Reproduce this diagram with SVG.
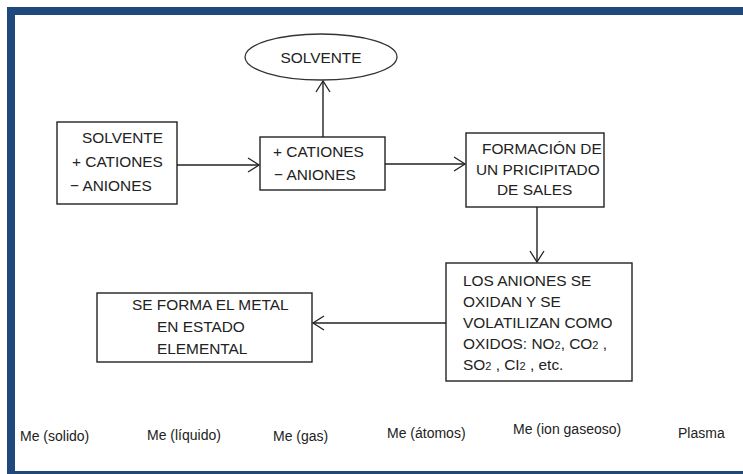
<svg xmlns="http://www.w3.org/2000/svg" width="743" height="474" viewBox="0 0 743 474">
<defs>
<style>
.box{fill:#fff;stroke:#222;stroke-width:1.4}
.t{font-family:"Liberation Sans",Arial,sans-serif;font-size:15.4px;fill:#222}
.b{font-family:"Liberation Sans",Arial,sans-serif;font-size:14px;fill:#222}
.c{stroke:#222;stroke-width:1.4;fill:none}
.sub{font-size:11px}
</style>
<marker id="ah" markerWidth="14" markerHeight="16" refX="12" refY="8" orient="auto" markerUnits="userSpaceOnUse">
<path d="M1,1 L12,8 L1,15" fill="none" stroke="#222" stroke-width="1.3"/>
</marker>
</defs>
<rect x="0" y="0" width="743" height="474" fill="#fff"/>
<rect id="frame" x="11" y="11" width="800" height="464" fill="none" stroke="#1f497d" stroke-width="8"/>
<g id="connectors">
<line class="c" x1="177" y1="165" x2="259" y2="165" marker-end="url(#ah)"/>
<line class="c" x1="323" y1="137" x2="323" y2="81" marker-end="url(#ah)"/>
<line class="c" x1="385" y1="164" x2="465" y2="164" marker-end="url(#ah)"/>
<line class="c" x1="537" y1="207" x2="537" y2="262" marker-end="url(#ah)"/>
<line class="c" x1="446" y1="323" x2="313" y2="323" marker-end="url(#ah)"/>
</g>
<g id="n_solvente">
<ellipse cx="321" cy="57" rx="76" ry="23" fill="#fff" stroke="#333" stroke-width="1.3"/>
<text class="t" x="321" y="63" text-anchor="middle">SOLVENTE</text>
</g>
<g id="n_mezcla">
<rect class="box" x="57" y="122" width="120" height="82"/>
<text class="t" x="82" y="143">SOLVENTE</text>
<text class="t" x="72" y="167">+ CATIONES</text>
<text class="t" x="70" y="191">−  ANIONES</text>
</g>
<g id="n_iones">
<rect class="box" x="260" y="137" width="125" height="53"/>
<text class="t" x="273" y="157">+ CATIONES</text>
<text class="t" x="274" y="180">−  ANIONES</text>
</g>
<g id="n_precipitado">
<rect class="box" x="466" y="133" width="138" height="74"/>
<text class="t" x="482" y="154">FORMACIÓN DE</text>
<text class="t" x="476" y="175">UN PRICIPITADO</text>
<text class="t" x="497" y="195">DE SALES</text>
</g>
<g id="n_oxidan">
<rect class="box" x="446" y="263" width="186" height="118"/>
<text class="t" x="463" y="286">LOS ANIONES SE</text>
<text class="t" x="463" y="307">OXIDAN Y SE</text>
<text class="t" x="463" y="328">VOLATILIZAN COMO</text>
<text class="t" x="463" y="349">OXIDOS:  NO<tspan class="sub">2</tspan>, CO<tspan class="sub">2</tspan> ,</text>
<text class="t" x="463" y="370">SO<tspan class="sub">2</tspan> , CI<tspan class="sub">2</tspan> , etc.</text>
</g>
<g id="n_metal">
<rect class="box" x="97" y="293" width="215" height="69"/>
<text class="t" x="132" y="310">SE FORMA EL METAL</text>
<text class="t" x="157" y="332">EN ESTADO</text>
<text class="t" x="157" y="354">ELEMENTAL</text>
</g>
<g id="labels">
<text class="b" x="20" y="441">Me (solido)</text>
<text class="b" x="147" y="440">Me (líquido)</text>
<text class="b" x="273" y="441">Me (gas)</text>
<text class="b" x="387" y="438">Me (átomos)</text>
<text class="b" x="513" y="434">Me (ion gaseoso)</text>
<text class="b" x="678" y="438">Plasma</text>
</g>
</svg>
